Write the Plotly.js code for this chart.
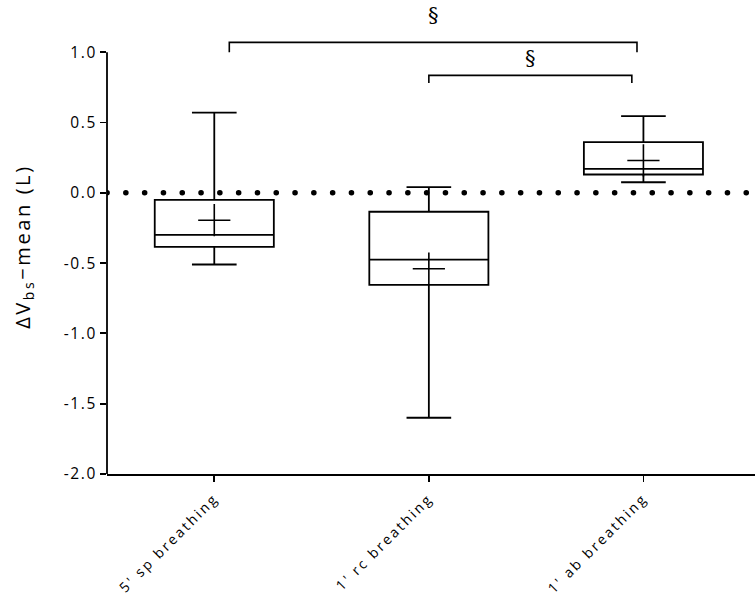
<!DOCTYPE html>
<html><head><meta charset="utf-8">
<script src="https://cdn.plot.ly/plotly-3.0.1.min.js"></script>
<style>
body{margin:0;background:#fff}
.xtick text{letter-spacing:2.4px}
.ytick text{letter-spacing:1.6px}
</style>
</head><body>
<div id="chart" style="width:755px;height:601px"></div>
<script>
const categories = ["5' sp breathing", "1' rc breathing", "1' ab breathing"];
const upperWhisker = [0.57, 0.04, 0.545];
const q3 = [-0.05, -0.135, 0.36];
const median = [-0.30, -0.475, 0.17];
const q1 = [-0.385, -0.655, 0.13];
const lowerWhisker = [-0.51, -1.60, 0.075];
const means = [-0.195, -0.54, 0.23];
const yTicks = [-2.0, -1.5, -1.0, -0.5, 0.0, 0.5, 1.0];
const yTickText = ["-2.0", "-1.5", "-1.0", "-0.5", "0.0", "0.5", "1.0"];
const yTitle = 'ΔV<sub>bs</sub>−mean (L)';
// significance brackets
const bracketOuter = {x0: 0.07, x1: 1.97, y: 1.07, yEnd: 1.0};
const bracketInner = {x0: 1.0, x1: 1.946, y: 0.835, yEnd: 0.78};
const sigMark = "§";
const sigY = [1.25, 0.945];

const xIdx = [0, 1, 2];
const traces = [
  {
    type: 'box', x: xIdx, q1: q1, median: median, q3: q3,
    lowerfence: lowerWhisker, upperfence: upperWhisker,
    width: 0.555, whiskerwidth: 0.375,
    fillcolor: '#ffffff', line: {color: '#000', width: 1.8},
    boxpoints: false, hoverinfo: 'skip', showlegend: false
  },
  {
    type: 'scatter', mode: 'markers', x: xIdx, y: means,
    marker: {symbol: 'cross-thin', size: 23, color: '#000', line: {color: '#000', width: 1.6}},
    showlegend: false, hoverinfo: 'skip'
  },
  {
    type: 'scatter', mode: 'lines', x: [-0.5, 2.52], y: [0, 0],
    line: {color: '#000', width: 5.5, dash: '0.1px,18.7px'},
    showlegend: false, hoverinfo: 'skip'
  },
  {
    type: 'scatter', mode: 'lines',
    x: [bracketOuter.x0, bracketOuter.x0, bracketOuter.x1, bracketOuter.x1],
    y: [bracketOuter.yEnd, bracketOuter.y, bracketOuter.y, bracketOuter.yEnd],
    line: {color: '#000', width: 1.6}, showlegend: false, hoverinfo: 'skip'
  },
  {
    type: 'scatter', mode: 'lines',
    x: [bracketInner.x0, bracketInner.x0, bracketInner.x1, bracketInner.x1],
    y: [bracketInner.yEnd, bracketInner.y, bracketInner.y, bracketInner.yEnd],
    line: {color: '#000', width: 1.6}, showlegend: false, hoverinfo: 'skip'
  },
  {
    type: 'scatter', mode: 'text',
    x: [(bracketOuter.x0 + bracketOuter.x1) / 2, (bracketInner.x0 + bracketInner.x1) / 2],
    y: sigY, text: [sigMark, sigMark],
    textfont: {family: 'DejaVu Serif, Liberation Serif, serif', size: 21, color: '#000'},
    cliponaxis: false, showlegend: false, hoverinfo: 'skip'
  }
];

const layout = {
  width: 755, height: 601,
  margin: {l: 107, r: 0, t: 10, b: 126.5},
  paper_bgcolor: '#fff', plot_bgcolor: '#fff',
  font: {family: 'Open Sans, Noto Sans, sans-serif', color: '#000'},
  xaxis: {
    range: [-0.5, 2.52], tickvals: xIdx, ticktext: categories,
    tickangle: -45, ticks: 'outside', ticklen: 6, tickwidth: 1.8, tickcolor: '#000',
    ticklabelstandoff: 3,
    showline: true, linecolor: '#000', linewidth: 1.8, showgrid: false, zeroline: false,
    tickfont: {size: 14, color: '#000'}
  },
  yaxis: {
    range: [-2.0, 1.3], tickvals: yTicks, ticktext: yTickText,
    ticks: 'outside', ticklen: 6, tickwidth: 1.8, tickcolor: '#000',
    showline: false, showgrid: false, zeroline: false,
    tickfont: {size: 15.5, color: '#000'}
  },
  annotations: [
    {text: yTitle, xref: 'paper', yref: 'y', x: -0.13, y: -0.38, xanchor: 'center', yanchor: 'middle',
     textangle: -90, showarrow: false, font: {size: 20, color: '#000'}}
  ],
  shapes: [
    {type: 'line', xref: 'paper', yref: 'y', x0: 0, x1: 0, y0: -2.0, y1: 1.0,
     line: {color: '#000', width: 1.8}}
  ]
};

Plotly.newPlot('chart', traces, layout, {displayModeBar: false, staticPlot: true}).then(() => {
  document.querySelectorAll('.scatterlayer path.js-line').forEach(p => {
    const s = p.getAttribute('style') || '';
    if (s.indexOf('0.1px') >= 0) p.style.strokeLinecap = 'round';
  });
  document.querySelectorAll('.annotation text').forEach(t => { t.style.letterSpacing = '2.6px'; });
});
</script>
</body></html>
